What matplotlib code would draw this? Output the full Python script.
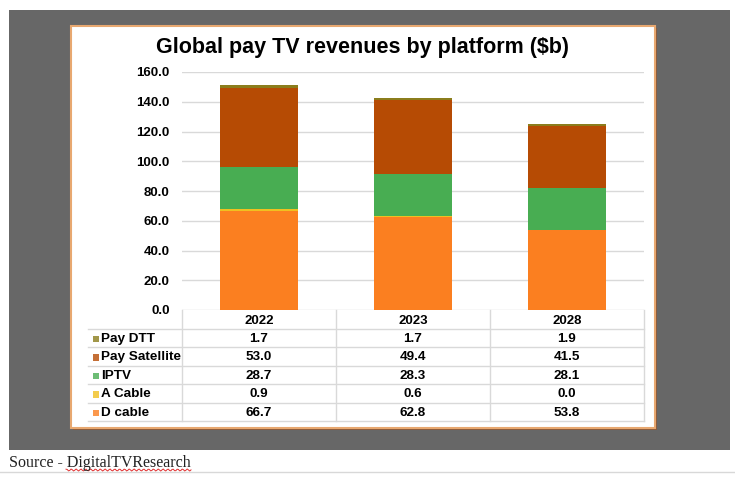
import numpy as np
import matplotlib.pyplot as plt
from matplotlib.patches import Rectangle

years = ['2022', '2023', '2028']
# stack order, bottom to top
series = ['D cable', 'A Cable', 'IPTV', 'Pay Satellite', 'Pay DTT']
d_cable = [66.7, 62.8, 53.8]
a_cable = [0.9, 0.6, 0.0]
iptv = [28.7, 28.3, 28.1]
pay_sat = [53.0, 49.4, 41.5]
pay_dtt = [1.7, 1.7, 1.9]
colors = ['#fb7f20', '#f0c020', '#48ad52', '#b64b04', '#8b7d1c']
values = [d_cable, a_cable, iptv, pay_sat, pay_dtt]

plt.rcParams['font.family'] = ['Liberation Sans', 'DejaVu Sans']

W, H = 735, 478
fig = plt.figure(figsize=(W / 100, H / 100), dpi=100)
fig.patch.set_facecolor('white')


def box(x0, y0, x1, y1):
    # pixel box (top-left origin) -> figure fraction rect
    return [x0 / W, 1 - y1 / H, (x1 - x0) / W, (y1 - y0) / H]


def fr(x, y):
    return x / W, 1 - y / H


# dark backdrop, shadow and white panel
r = box(9, 10, 730, 450)
fig.patches.append(Rectangle(r[:2], r[2], r[3], transform=fig.transFigure,
                             facecolor='#676767', edgecolor='none', zorder=-3))
r = box(73, 28, 657, 430)
fig.patches.append(Rectangle(r[:2], r[2], r[3], transform=fig.transFigure,
                             facecolor='#8a5a3a', edgecolor='none', zorder=-2))
r = box(71, 26, 655, 428)
fig.patches.append(Rectangle(r[:2], r[2], r[3], transform=fig.transFigure,
                             facecolor='white', edgecolor='#e8a870', lw=1.5, zorder=-1))

# bottom separator line of the page
fig.add_artist(plt.Line2D([0, 1], [1 - 472 / H] * 2, transform=fig.transFigure,
                          color='#d8d8d8', lw=1))

fig.text(*fr(363, 47), 'Global pay TV revenues by platform ($b)', ha='center', va='center',
         fontsize=15.5, fontweight='bold', color='black')

# chart
ax = fig.add_axes(box(182, 72, 644, 310))
x = np.arange(len(years))
bottom = np.zeros(len(years))
for name, vals, c in zip(series, values, colors):
    ax.bar(x, vals, 0.51, bottom=bottom, color=c, label=name, zorder=3)
    bottom += np.array(vals)
ax.set_xlim(-0.5, 2.5)
ax.set_ylim(0, 160)
ax.set_yticks(np.arange(0, 161, 20))
ax.set_yticklabels([f'{v:.1f}' for v in np.arange(0, 161, 20)], fontsize=9.5, fontweight='bold')
ax.set_xticks([])
ax.tick_params(axis='y', length=0, pad=9)
ax.grid(axis='y', color='#d9d9d9', lw=1, zorder=0)
ax.set_facecolor('none')
for s in ax.spines.values():
    s.set_visible(False)

# data table under the chart
left = -0.5 - 94 / 154
tx = fig.add_axes(box(88, 310, 644, 421))
tx.set_xlim(left, 2.5)
tx.set_ylim(6, 0)
tx.axis('off')
lc = '#d9d9d9'
for i in range(1, 7):
    tx.plot([left, 2.5], [i, i], color=lc, lw=1, clip_on=False)
for xv in [-0.5, 0.5, 1.5, 2.5]:
    tx.plot([xv, xv], [0, 6], color=lc, lw=1, clip_on=False)
for j, yr in enumerate(years):
    tx.text(j, 0.58, yr, ha='center', va='center', fontsize=9.5, fontweight='bold')
rows = list(zip(series, values, colors))[::-1]
for i, (name, vals, c) in enumerate(rows):
    yc = i + 1.55
    tx.add_patch(Rectangle((left + 5 / 154, yc - 0.17), 6.5 / 154, 0.36, facecolor=c,
                           edgecolor='none', alpha=0.8))
    tx.text(left + 13.5 / 154, yc, name, ha='left', va='center', fontsize=9.7, fontweight='bold')
    for j, v in enumerate(vals):
        tx.text(j, yc, f'{v:.1f}', ha='center', va='center', fontsize=9.7, fontweight='bold')

# source line
fig.text(*fr(9, 463), 'Source - DigitalTVResearch', ha='left', va='center',
         fontsize=11.5, family='Liberation Serif', color='#222222')
wx = np.linspace(66, 191, 100)
fig.add_artist(plt.Line2D(wx / W, 1 - (470 + 1.0 * np.sin(wx * 1.3)) / H,
                          transform=fig.transFigure, color='#e03030', lw=0.7))

fig.savefig('out.png', dpi=100)
